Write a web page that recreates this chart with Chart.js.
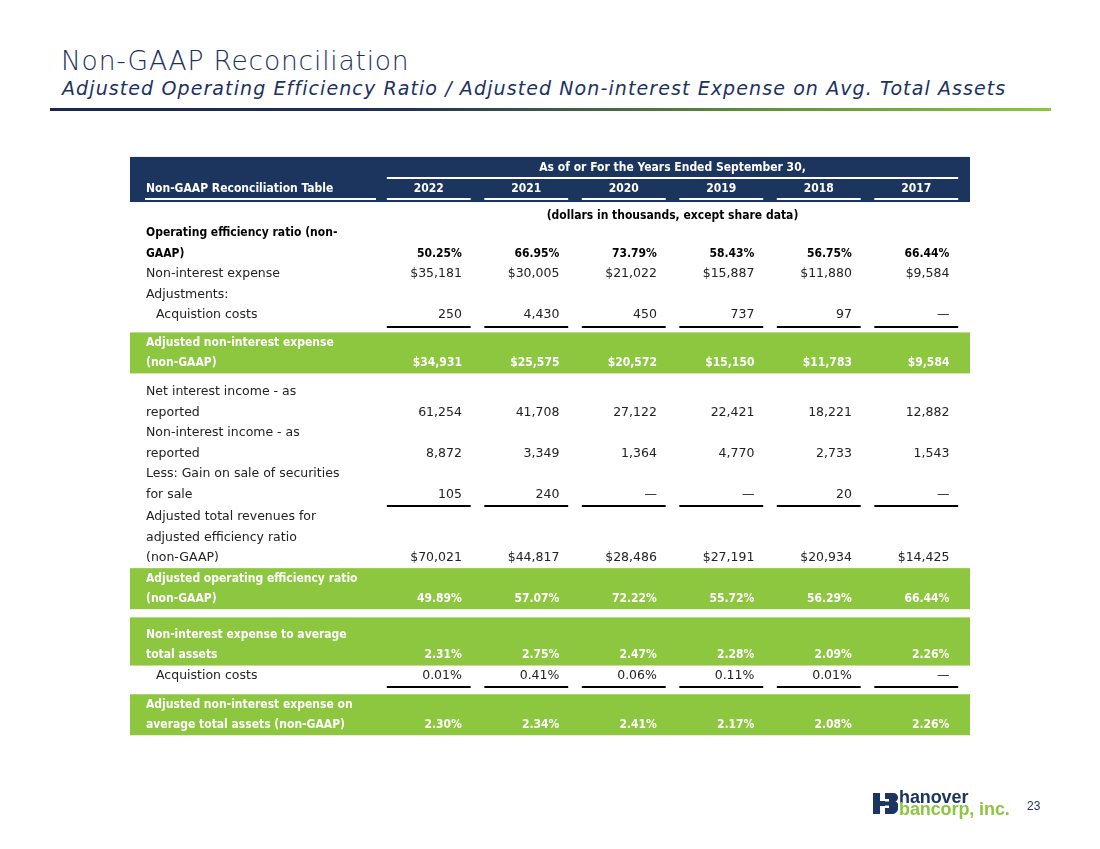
<!DOCTYPE html>
<html>
<head>
<meta charset="utf-8">
<script src="https://cdn.jsdelivr.net/npm/chart.js@4/dist/chart.umd.min.js"></script>
<style>
  html, body { margin: 0; padding: 0; background: #fff; }
  #page { position: relative; width: 1100px; height: 849px; overflow: hidden; }
  #table { position: absolute; left: 0; top: 0; }
  .title { position: absolute; left: 61px; top: 45px; font: 200 26.5px "DejaVu Sans", sans-serif; letter-spacing: 0.8px; color: #1b3160; white-space: nowrap; }
  .subtitle { position: absolute; left: 62px; top: 77px; font: italic 200 19px "DejaVu Sans", sans-serif; letter-spacing: 1.1px; color: #1b3160; white-space: nowrap; }
  .rule { position: absolute; left: 50px; top: 108px; width: 1001px; height: 3px;
          background: linear-gradient(to right, #17274f 0%, #1d3256 35%, #5f8f3a 70%, #8cc63f 100%); }
  .logo { position: absolute; left: 873px; top: 793px; }
  .brand { position: absolute; left: 899px; font: bold 18px "Liberation Sans", Arial, sans-serif; letter-spacing: -0.1px; white-space: nowrap; }
  .pageno { position: absolute; left: 1027px; top: 799px; font: 12px "Liberation Sans", Arial, sans-serif; color: #1f2d4d; }
</style>
</head>
<body>
<div id="page">
  <div class="title">Non-GAAP Reconciliation</div>
  <div class="subtitle">Adjusted Operating Efficiency Ratio / Adjusted Non-interest Expense on Avg. Total Assets</div>
  <div class="rule"></div>
  <canvas id="table" width="1100" height="849"></canvas>
  <svg class="logo" width="25" height="21" viewBox="0 0 25 21">
    <path fill="#1c3560" d="M0 0h7v21H0z M7 8h5v5H7z M12 0h8c3 0 5 2 5 4.5c0 2-1 3.3-2.6 4.1c2 .6 3.1 2.2 3.1 4.4C25.5 17.8 23 21 19.5 21H12v-6h4v-2.5h-4V8.5h4V6h-4z"/>
  </svg>
  <div class="brand" style="top:787px;color:#1c3560">hanover</div>
  <div class="brand" style="top:799px;color:#8cc63f">bancorp, inc.</div>
  <div class="pageno">23</div>
</div>
<script>
// column headers
const years = ['2022', '2021', '2020', '2019', '2018', '2017'];
const tableTitle = 'Non-GAAP Reconciliation Table';
const periodNote = 'As of or For the Years Ended September 30,';
const unitNote = '(dollars in thousands, except share data)';

// row labels (wrapped as on the slide)
const rowLabels = [
  ['Operating efficiency ratio (non-', 'GAAP)'],
  ['Non-interest expense'],
  ['Adjustments:'],
  ['Acquistion costs'],
  ['Adjusted non-interest expense', '(non-GAAP)'],
  ['Net interest income - as', 'reported'],
  ['Non-interest income - as', 'reported'],
  ['Less: Gain on sale of securities', 'for sale'],
  ['Adjusted total revenues for', 'adjusted efficiency ratio', '(non-GAAP)'],
  ['Adjusted operating efficiency ratio', '(non-GAAP)'],
  ['Non-interest expense to average', 'total assets'],
  ['Acquistion costs'],
  ['Adjusted non-interest expense on', 'average total assets (non-GAAP)']
];

// values per year, one entry per row (null = empty cell, 0 = dash)
const values2022 = [50.25, 35181, null, 250, 34931, 61254, 8872, 105, 70021, 49.89, 2.31, 0.01, 2.30];
const values2021 = [66.95, 30005, null, 4430, 25575, 41708, 3349, 240, 44817, 57.07, 2.75, 0.41, 2.34];
const values2020 = [73.79, 21022, null, 450, 20572, 27122, 1364, 0, 28486, 72.22, 2.47, 0.06, 2.41];
const values2019 = [58.43, 15887, null, 737, 15150, 22421, 4770, 0, 27191, 55.72, 2.28, 0.11, 2.17];
const values2018 = [56.75, 11880, null, 97, 11783, 18221, 2733, 20, 20934, 56.29, 2.09, 0.01, 2.08];
const values2017 = [66.44, 9584, null, 0, 9584, 12882, 1543, 0, 14425, 66.44, 2.26, 0, 2.26];
const valuesByYear = [values2022, values2021, values2020, values2019, values2018, values2017];

// row formatting / styling
const rowFormat = ['pct', 'usd', '', 'num', 'usd', 'num', 'num', 'num', 'usd', 'pct', 'pct', 'pct', 'pct'];
const rowKind = ['bold', 'plain', 'plain', 'plain', 'green', 'plain', 'plain', 'plain', 'plain', 'green', 'green', 'plain', 'green'];
const rowIndent = [0, 0, 0, 1, 0, 0, 0, 0, 0, 0, 0, 1, 0];
const rowUnderline = [0, 0, 0, 1, 0, 0, 0, 1, 0, 0, 0, 1, 0];
const rowGap = [0, 0, 0, 0, 0.35, 0.4, 0, 0, 0.1, 0, 0.75, 0, 0.4];

const NAVY = '#1c355e';
const GREEN = '#8dc63f';
const INK = '#222222';
const REG = '12.5px "DejaVu Sans", sans-serif';
const BOLD = 'bold 12px "DejaVu Sans Condensed", "Noto Sans", sans-serif';

function fmt(v, kind) {
  if (v === null || kind === '') return '';
  if (v === 0) return '\u2014';
  if (kind === 'pct') return v.toFixed(2) + '%';
  if (kind === 'usd') return '$' + v.toLocaleString('en-US');
  return v.toLocaleString('en-US');
}

// line slots: header = 0, 1; unit note = 2.35; rows start at 3.17
const rowLines = [];
let cursor = 3.17;
rowLabels.forEach((lines, r) => {
  cursor += rowGap[r];
  rowLines.push(lines.map((_, k) => cursor + k));
  cursor += lines.length;
});

const tablePlugin = {
  id: 'tableCells',
  afterDraw(chart) {
    const { ctx, scales: { x, y } } = chart;
    const slot = x.getPixelForValue(1) - x.getPixelForValue(0);
    const left = 130, right = x.right + 5, labelX = 146;
    const colL = i => x.getPixelForValue(i) - 0.43 * slot;
    const colR = i => x.getPixelForValue(i) + 0.43 * slot;
    const valX = i => x.getPixelForValue(i) + 0.34 * slot;

    ctx.save();
    ctx.textBaseline = 'middle';

    // header band
    ctx.fillStyle = NAVY;
    ctx.fillRect(left, y.getPixelForValue(-0.54), right - left, y.getPixelForValue(1.66) - y.getPixelForValue(-0.54));
    ctx.fillStyle = '#fff';
    ctx.font = BOLD;
    ctx.textAlign = 'center';
    ctx.fillText(periodNote, (x.left + x.right) / 2, y.getPixelForValue(0));
    years.forEach((yr, i) => ctx.fillText(x.getLabelForValue(i), x.getPixelForValue(i), y.getPixelForValue(1)));
    ctx.textAlign = 'left';
    ctx.fillText(tableTitle, labelX, y.getPixelForValue(1));
    ctx.fillRect(colL(0), Math.round(y.getPixelForValue(0.44)), colR(years.length - 1) - colL(0), 2);
    const hy = Math.round(y.getPixelForValue(1.46));
    ctx.fillRect(labelX - 1, hy, 377 - labelX, 2);
    years.forEach((_, i) => ctx.fillRect(colL(i), hy, colR(i) - colL(i), 2));

    ctx.fillStyle = '#000';
    ctx.textAlign = 'center';
    ctx.fillText(unitNote, (x.left + x.right) / 2, y.getPixelForValue(2.35));

    // rows
    rowLabels.forEach((lines, r) => {
      const slots = rowLines[r];
      const last = slots[slots.length - 1];
      const kind = rowKind[r];
      if (kind === 'green') {
        const top = y.getPixelForValue(slots[0] - 0.5 - Math.max(0, rowGap[r] - 0.4));
        const bot = y.getPixelForValue(last + 0.5);
        ctx.fillStyle = GREEN;
        ctx.fillRect(left, top, right - left, bot - top);
      }
      const color = kind === 'green' ? '#fff' : (kind === 'bold' ? '#000' : INK);
      ctx.font = kind === 'plain' ? REG : BOLD;
      ctx.fillStyle = color;
      ctx.textAlign = 'left';
      lines.forEach((txt, k) => ctx.fillText(txt, labelX + rowIndent[r] * 10, y.getPixelForValue(slots[k])));
      ctx.textAlign = 'right';
      valuesByYear.forEach((vals, i) => {
        ctx.fillText(fmt(vals[r], rowFormat[r]), valX(i), y.getPixelForValue(last));
      });
      if (rowUnderline[r]) {
        ctx.fillStyle = '#000';
        const uy = Math.round(y.getPixelForValue(last + 0.52));
        years.forEach((_, i) => ctx.fillRect(colL(i), uy, colR(i) - colL(i), 2));
      }
    });
    ctx.restore();
  }
};

new Chart(document.getElementById('table'), {
  type: 'bar',
  data: { labels: years, datasets: [] },
  options: {
    responsive: false,
    animation: false,
    devicePixelRatio: 1,
    layout: { padding: { left: 380, right: 135, top: 157.75, bottom: 107 } },
    plugins: { legend: { display: false }, tooltip: { enabled: false } },
    scales: {
      x: { type: 'category', offset: true, display: false },
      y: { type: 'linear', reverse: true, min: -0.5, max: 28, display: false }
    }
  },
  plugins: [tablePlugin]
});
</script>
</body>
</html>
